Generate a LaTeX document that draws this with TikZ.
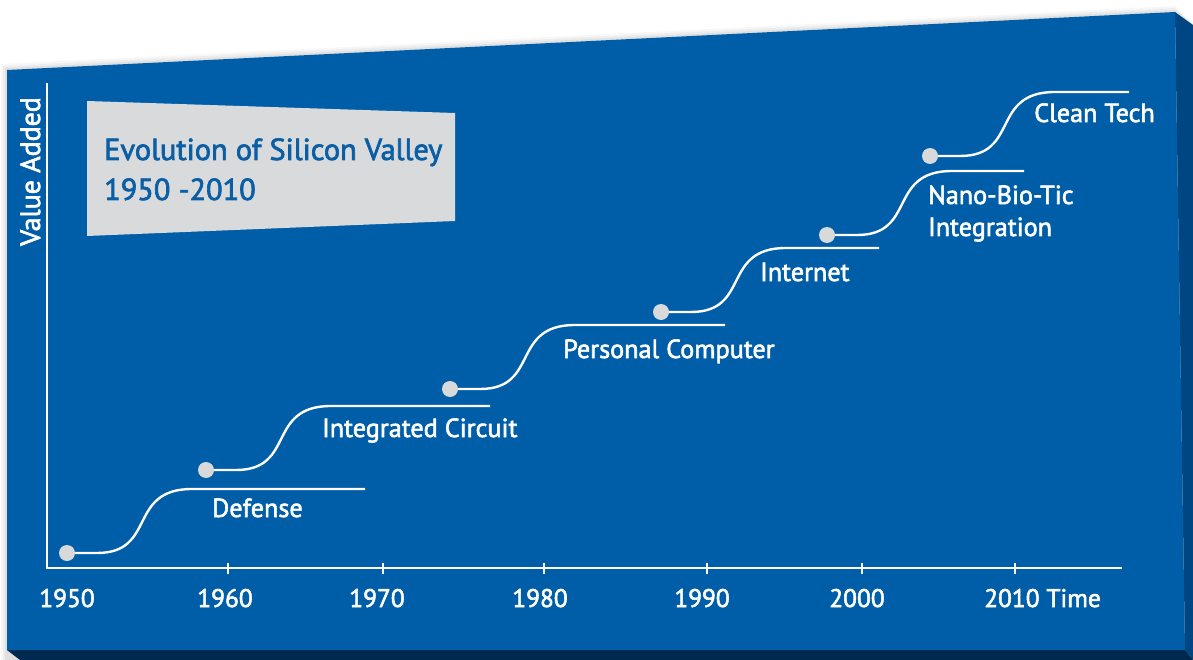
\documentclass[tikz,border=0pt]{standalone}
\usepackage{fontspec}
\setmainfont{PT Sans}
\newfontfamily\medfont{PT Sans}[FakeBold=2.2]
\usetikzlibrary{calc}
\definecolor{bgblue}{HTML}{005DA8}
\definecolor{titleblue}{HTML}{0A5EA6}
\definecolor{sideblue}{HTML}{004682}
\definecolor{navy}{HTML}{00294F}
\definecolor{boxgrey}{HTML}{D9DADC}
\definecolor{dotgrey}{HTML}{D8D9DB}
\begin{document}
\begin{tikzpicture}[x=1bp,y=-1bp,
  curve/.style={white, line width=2.4bp},
  axis/.style={white, line width=2.6bp},
  dot/.style={circle, fill=dotgrey, minimum size=16bp, inner sep=0pt},
  lbl/.style={white, font=\medfont\fontsize{26.3}{30}\selectfont, inner sep=0pt, anchor=base west},
  yearlbl/.style={white, font=\medfont\fontsize{25.5}{30}\selectfont, inner sep=0pt, anchor=base},
  titlelbl/.style={titleblue, font=\medfont\fontsize{30.5}{36}\selectfont, inner sep=0pt, anchor=base west},
]
\useasboundingbox (0,0) rectangle (1193,660);
\fill[white] (0,0) rectangle (1193,660);
% soft shadow above the top edge
\foreach \s/\o in {6/0.03,4/0.04,2/0.05}{
  \fill[black,opacity=\o] (7-\s,70-\s) -- (1175,12-\s) -- (1193,25) -- (1193,660) -- (7-\s,660) -- cycle;
}
% board faces
\fill[sideblue] (1175,12) -- (1193,25) -- (1193,660) -- (1185,650) -- cycle;
\fill[navy] (7,650) -- (1185,650) -- (1193,660) -- (20,660) -- cycle;
\fill[bgblue] (7,70) -- (1175,12) -- (1185,650) -- (7,650) -- cycle;
% title box
\fill[boxgrey] (87,101) -- (455,113) -- (455,221) -- (87,236) -- cycle;
\node[titlelbl] (title1) at (104,160) {Evolution of Silicon Valley};
\node[titlelbl] (title2) at (104,200) {1950 -2010};
% axes
\coordinate (ytop) at (47,83);
\coordinate (orig) at (47,568);
\coordinate (xend) at (1122,568);
\draw[axis] (ytop) -- (orig) -- (xend);
\foreach \t in {228,383,544,707,862,1015}{
  \draw[axis] (\t,563) -- (\t,574);
}
\node[white, font=\medfont\fontsize{28}{32}\selectfont, inner sep=0pt, rotate=90, anchor=base west] (vadded) at (40,246) {Value Added};
% years
\node[yearlbl] (y1950) at (67,607) {1950};
\node[yearlbl] (y1960) at (225,607) {1960};
\node[yearlbl] (y1970) at (377,607) {1970};
\node[yearlbl] (y1980) at (540,607) {1980};
\node[yearlbl] (y1990) at (702,607) {1990};
\node[yearlbl] (y2000) at (857,607) {2000};
\node[lbl, font=\medfont\fontsize{25.5}{30}\selectfont] (y2010) at (984,607) {2010 Time};
% steps
\foreach \i/\x/\y/\e in {1/67/553/365, 2/206/470/490, 3/450/389/725, 4/661/312/879, 5/827/235/1024, 6/930/156/1129}{
  \node[dot] (d\i) at (\x,\y) {};
  \coordinate (b\i) at (\x+30,\y);
  \coordinate (t\i) at (\x+125,\y-64);
  \coordinate (e\i) at (\e,\y-64);
  \draw[curve] (d\i) -- (b\i) .. controls +(60,0) and +(-65,0) .. (t\i) -- (e\i);
}
\node[lbl] (l1) at (212,517) {Defense};
\node[lbl] (l2) at (322,437) {Integrated Circuit};
\node[lbl] (l3) at (563,358) {Personal Computer};
\node[lbl] (l4) at (760,281) {Internet};
\node[lbl] (l5a) at (928,204) {Nano-Bio-Tic};
\node[lbl] (l5b) at (928,236) {Integration};
\node[lbl] (l6) at (1034,122) {Clean Tech};
\end{tikzpicture}
\end{document}
